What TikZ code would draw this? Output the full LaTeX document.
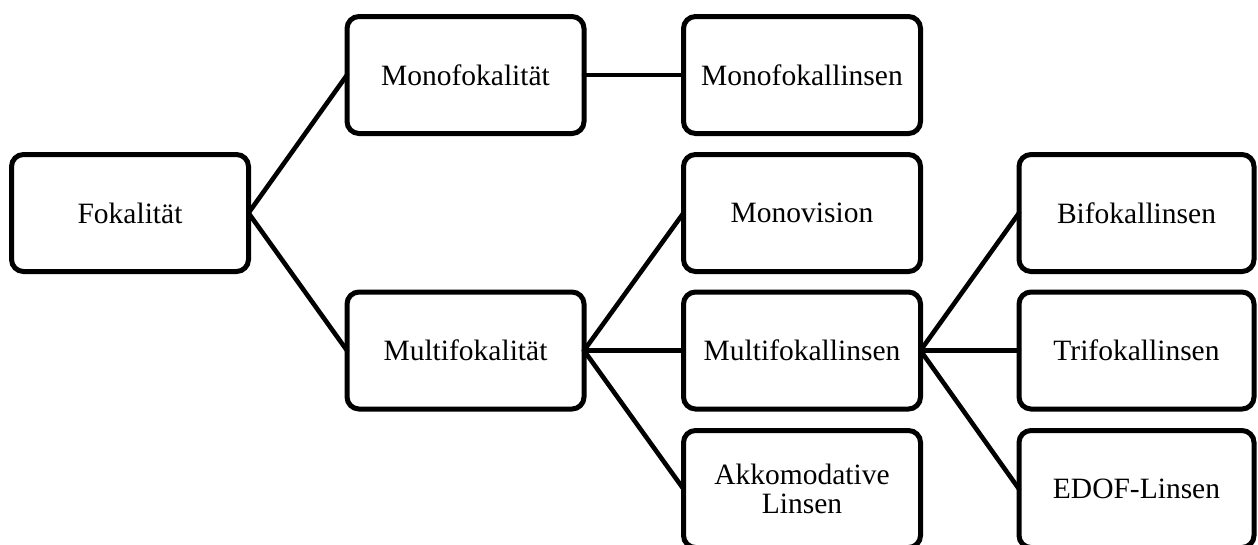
\documentclass[tikz,border=0pt]{standalone}
\usepackage{fontspec}
\setmainfont{Liberation Serif}
\begin{document}
\begin{tikzpicture}[x=1pt,y=-1pt,
  box/.style={draw=black, line width=5pt, rounded corners=12pt, fill=white,
    minimum width=237pt, minimum height=117pt, outer sep=0pt, inner sep=2pt,
    align=center, font=\fontsize{29.5}{29}\selectfont},
  link/.style={line width=4.6pt, line cap=round}]
\path[use as bounding box] (0,0) rectangle (1258,544);
\clip (0,0) rectangle (1258,544);
\node[box] (fok) at (130,213) {Fokalit\"at};
\node[box] (monofok) at (465.5,75) {Monofokalit\"at};
\node[box] (multifok) at (465.5,350.5) {Multifokalit\"at};
\node[box] (monolin) at (802,75) {Monofokallinsen};
\node[box] (monovis) at (802,213) {Monovision};
\node[box] (multilin) at (802,350.5) {Multifokallinsen};
\node[box] (akko) at (802,489) {Akkomodative\\Linsen};
\node[box, minimum width=235pt] (bifo) at (1136.5,213) {Bifokallinsen};
\node[box, minimum width=235pt] (trifo) at (1136.5,350.5) {Trifokallinsen};
\node[box, minimum width=235pt] (edof) at (1136.5,489) {EDOF-Linsen};
\draw[link] (fok.east) -- (monofok.west);
\draw[link] (fok.east) -- (multifok.west);
\draw[link] (monofok.east) -- (monolin.west);
\draw[link] (multifok.east) -- (monovis.west);
\draw[link] (multifok.east) -- (multilin.west);
\draw[link] (multifok.east) -- (akko.west);
\draw[link] (multilin.east) -- (bifo.west);
\draw[link] (multilin.east) -- (trifo.west);
\draw[link] (multilin.east) -- (edof.west);
\end{tikzpicture}
\end{document}
